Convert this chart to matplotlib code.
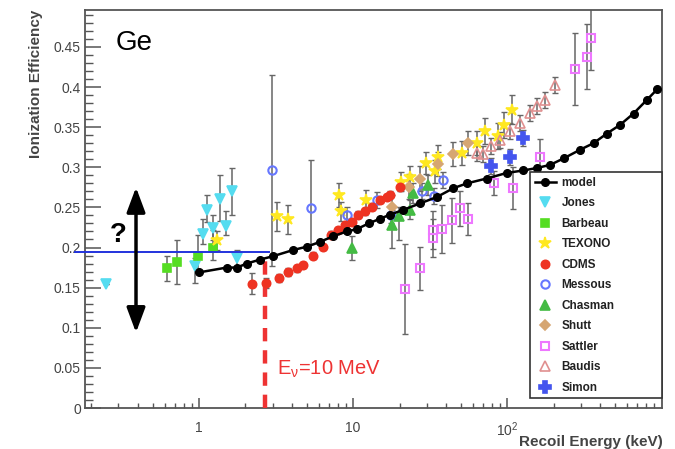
import matplotlib
matplotlib.use("Agg")
import matplotlib.pyplot as plt
from matplotlib.ticker import FixedLocator, FixedFormatter, MultipleLocator, FuncFormatter, LogLocator, NullFormatter

plt.rcParams['font.family'] = ['Liberation Sans', 'DejaVu Sans']
plt.rcParams['mathtext.fontset'] = 'custom'
plt.rcParams['mathtext.rm'] = 'Liberation Sans'
plt.rcParams['mathtext.it'] = 'Liberation Sans'

# ---------------- data ----------------
model_E = [1.0, 1.51, 1.76, 2.04, 2.49, 3.0, 4.1, 5.0, 6.1, 7.4, 9.1, 10.6, 12.6, 15, 17.4,
           21.2, 27.2, 35, 44.8, 54.9, 73.5, 99.6, 127, 155, 190, 232, 298, 363, 443, 541,
           660, 806, 938]
model_y = [0.169, 0.175, 0.175, 0.180, 0.185, 0.189, 0.197, 0.201, 0.207, 0.214, 0.220, 0.223,
           0.230, 0.236, 0.241, 0.247, 0.255, 0.263, 0.274, 0.280, 0.286, 0.293, 0.296, 0.299,
           0.303, 0.311, 0.322, 0.330, 0.342, 0.353, 0.367, 0.384, 0.397]

jones_E = [0.25, 0.94, 1.06, 1.12, 1.23, 1.36, 1.49, 1.64, 1.76]
jones_y = [0.155, 0.177, 0.217, 0.247, 0.224, 0.261, 0.227, 0.271, 0.187]
jones_lo = [0, 0.021, 0.013, 0.015, 0.015, 0.028, 0.011, 0.030, 0.010]
jones_hi = [0, 0.010, 0.018, 0.019, 0.017, 0.029, 0.018, 0.028, 0.010]

barbeau_E = [0.62, 0.72, 0.99, 1.23]
barbeau_y = [0.174, 0.182, 0.190, 0.199]
barbeau_lo = [0.016, 0.027, 0.022, 0.014]
barbeau_hi = [0.015, 0.027, 0.026, 0.023]

texono_E = [1.30, 3.22, 3.77, 8.1, 8.3, 12.1, 20.4, 23.5, 29.7, 34, 35.8, 50.7, 63.3, 71.8,
            87.7, 94.8, 107]
texono_y = [0.209, 0.239, 0.235, 0.266, 0.245, 0.259, 0.282, 0.288, 0.305, 0.295, 0.313,
            0.318, 0.330, 0.345, 0.339, 0.353, 0.372]
texono_err = [0.012, 0.018, 0.018, 0.015, 0.012, 0.013, 0.012, 0.013, 0.014, 0.014, 0.015,
              0.015, 0.015, 0.016, 0.016, 0.016, 0.018]

cdms_E = [2.2, 2.72, 3.29, 3.77, 4.3, 4.75, 5.5, 6.4, 7.2, 8.0, 8.9, 9.8, 10.8, 11.9, 13.2,
          15.0, 16.5, 17.4, 20.2]
cdms_y = [0.155, 0.156, 0.162, 0.170, 0.174, 0.178, 0.190, 0.201, 0.216, 0.222, 0.228, 0.232,
          0.241, 0.245, 0.251, 0.259, 0.263, 0.266, 0.275]
cdms_err = [0.013, 0.006, 0.005, 0.005, 0.004, 0.004, 0.004, 0.004, 0.004, 0.004, 0.004,
            0.004, 0.004, 0.004, 0.004, 0.004, 0.004, 0.004, 0.004]

messous_E = [2.97, 5.3, 9.1, 14.3, 17.6, 27.9, 33.6, 38.5]
messous_y = [0.297, 0.249, 0.241, 0.259, 0.241, 0.270, 0.264, 0.284]
messous_lo = [0.120, 0.044, 0.010, 0.010, 0.010, 0.010, 0.010, 0.010]
messous_hi = [0.118, 0.060, 0.010, 0.010, 0.010, 0.010, 0.010, 0.010]

chasman_E = [9.9, 17.8, 19.7, 23.4, 24.4, 30.7]
chasman_y = [0.199, 0.228, 0.239, 0.247, 0.268, 0.278]
chasman_lo = [0.014, 0.029, 0.030, 0.012, 0.012, 0.012]
chasman_hi = [0.015, 0.019, 0.012, 0.012, 0.012, 0.012]

shutt_E = [17.8, 22.9, 27.2, 35.3, 44.8, 55.8]
shutt_y = [0.250, 0.276, 0.286, 0.304, 0.316, 0.330]
shutt_err = [0.015, 0.015, 0.015, 0.015, 0.015, 0.015]

sattler_E = [21.7, 27.2, 32.8, 32.8, 38, 43.7, 49.4, 55.3, 82, 109, 164, 275, 329, 350]
sattler_y = [0.148, 0.174, 0.222, 0.212, 0.223, 0.234, 0.249, 0.235, 0.280, 0.274, 0.313,
             0.422, 0.438, 0.461]
sattler_err = [0.056, 0.027, 0.024, 0.024, 0.030, 0.028, 0.022, 0.020, 0.015, 0.026, 0.022,
               0.045, 0.040, 0.040]

baudis_E = [63.3, 70, 77.9, 90, 104.7, 121, 141, 155, 176, 205]
baudis_y = [0.318, 0.316, 0.326, 0.334, 0.345, 0.355, 0.368, 0.376, 0.384, 0.403]
baudis_err = [0.010, 0.010, 0.010, 0.010, 0.010, 0.010, 0.010, 0.010, 0.010, 0.010]

simon_E = [78, 104.6, 127]
simon_y = [0.302, 0.313, 0.336]
simon_err = [0.010, 0.010, 0.010]

x_ticks = [1, 10, 100]
x_ticklabels = ['1', '10', '$10^{2}$']

# ---------------- figure ----------------
fig = plt.figure(figsize=(6.75, 4.49), dpi=100)
ax = fig.add_axes([85 / 675, 41 / 449, 577 / 675, 398 / 449])
ax.set_xscale('log')
ax.set_xlim(0.182, 1010)
ax.set_ylim(0, 0.496)

ecol = '#666666'

def draw(E, y, lo, hi, marker, color, label, ms=6, mfc=None, mew=1.2, z=3):
    ax.errorbar(E, y, yerr=[lo, hi], fmt='none', ecolor=ecol, elinewidth=1.1,
                capsize=2, capthick=1.0, zorder=2)
    h, = ax.plot(E, y, ls='none', marker=marker, color=color, ms=ms,
                 mfc=color if mfc is None else mfc, mec=color, mew=mew, label=label, zorder=z)
    return h

h_jones = draw(jones_E, jones_y, jones_lo, jones_hi, 'v', '#55dcf0', 'Jones', ms=6.5)
h_barb = draw(barbeau_E, barbeau_y, barbeau_lo, barbeau_hi, 's', '#55dd22', 'Barbeau')
h_tex = draw(texono_E, texono_y, texono_err, texono_err, '*', '#ffe820', 'TEXONO', ms=9)
h_cdms = draw(cdms_E, cdms_y, cdms_err, cdms_err, 'o', '#ee3322', 'CDMS', z=4)
h_mes = draw(messous_E, messous_y, messous_lo, messous_hi, 'o', '#6677ff', 'Messous', mfc='none', mew=1.5)
h_chas = draw(chasman_E, chasman_y, chasman_lo, chasman_hi, '^', '#44bb44', 'Chasman', ms=6.5)
h_shutt = draw(shutt_E, shutt_y, shutt_err, shutt_err, 'D', '#d6a672', 'Shutt', ms=5.5)
h_satt = draw(sattler_E, sattler_y, sattler_err, sattler_err, 's', '#ee77ff', 'Sattler', mfc='none', mew=1.5)
h_baud = draw(baudis_E, baudis_y, baudis_err, baudis_err, '^', '#e09090', 'Baudis', ms=7.5, mfc='none', mew=1.2)
h_sim = draw(simon_E, simon_y, simon_err, simon_err, 'P', '#4455ee', 'Simon', ms=8.5)

h_model, = ax.plot(model_E, model_y, '-', color='black', lw=1.8, marker='o', ms=5.5,
                   label='model', zorder=5)

# annotations
ax.plot([0.156, 2.85], [0.195, 0.195], color='#2233dd', lw=1.4, clip_on=False, zorder=3)
ax.plot([2.68, 2.68], [0.0, 0.185], color='#ee3333', lw=3.2, ls=(0, (3, 2)), zorder=3)
ax.annotate('', xy=(0.39, 0.094), xytext=(0.39, 0.275),
            arrowprops=dict(arrowstyle='<|-|>,head_length=0.75,head_width=0.28',
                            lw=2.5, color='black', mutation_scale=20,
                            shrinkA=0, shrinkB=0))
ax.text(0.30, 0.216, '?', fontsize=20, fontweight='bold', ha='center', va='center', color='black')
fig.text(116 / 675, 1 - 50 / 449, 'Ge', fontsize=20, ha='left', va='baseline', color='black')
fig.text(277 / 675, 1 - 375 / 449, r'E$_{\nu}$=10 MeV', fontsize=14.5, ha='left',
         va='baseline', color='#ee3333')

# axes styling
for s in ax.spines.values():
    s.set_color('#555555')
    s.set_linewidth(1.3)
ax.xaxis.set_major_locator(FixedLocator(x_ticks))
ax.xaxis.set_major_formatter(FixedFormatter(x_ticklabels))
ax.xaxis.set_minor_locator(LogLocator(base=10, subs=[2, 3, 4, 5, 6, 7, 8, 9], numticks=20))
ax.xaxis.set_minor_formatter(NullFormatter())
ax.yaxis.set_major_locator(MultipleLocator(0.05))
ax.yaxis.set_minor_locator(MultipleLocator(0.01))
ax.yaxis.set_major_formatter(FuncFormatter(lambda v, p: '%g' % round(v, 3)))
ax.tick_params(axis='both', which='both', direction='in', colors='#555555',
               labelcolor='#444444', labelsize=10, top=False, right=False)
ax.tick_params(axis='y', which='major', length=11.5, width=1.1, pad=3)
ax.tick_params(axis='y', which='minor', length=5.8, width=1.0)
ax.tick_params(axis='x', which='major', length=7, width=1.1, pad=9)
ax.tick_params(axis='x', which='minor', length=3.5, width=1.0)

fig.text(36 / 675, 1 - 10 / 449, 'Ionization Efficiency', rotation=90, ha='center', va='top',
         fontsize=11, fontweight='bold', color='#444444')
fig.text(663 / 675, 1 - 442 / 449, 'Recoil Energy (keV)', ha='right', va='center',
         fontsize=11, fontweight='bold', color='#444444')

handles = [h_model, h_jones, h_barb, h_tex, h_cdms, h_mes, h_chas, h_shutt, h_satt, h_baud, h_sim]
leg = ax.legend(handles=handles, loc='upper left', bbox_to_anchor=(0.771, 0.593, 0.229, 0.0),
                mode='expand', labelspacing=0.72, handlelength=1.8,
                handletextpad=0.5, borderpad=0.4, borderaxespad=0, fancybox=False,
                framealpha=1, edgecolor='#333333', prop={'weight': 'bold', 'size': 8.5})
leg.get_frame().set_linewidth(1.2)
for t in leg.get_texts():
    t.set_color('#222222')
leg.set_zorder(10)

fig.savefig('out.png', dpi=100)
